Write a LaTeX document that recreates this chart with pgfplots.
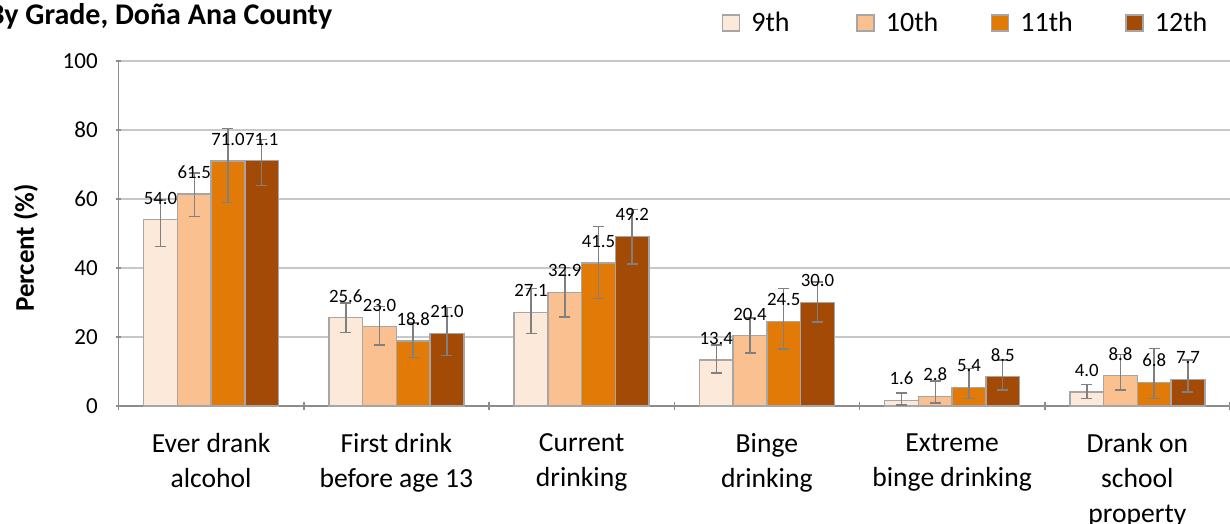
\documentclass[border=0pt]{standalone}
\usepackage{pgfplots}
\usepackage{pgfplotstable}
\pgfplotsset{compat=1.18}
\usepackage{fontspec}
\setmainfont{Carlito}
\definecolor{c9}{HTML}{FDE9D9}
\definecolor{c10}{HTML}{FAC090}
\definecolor{c11}{HTML}{E27A08}
\definecolor{c12}{HTML}{A24A06}
\definecolor{bord}{HTML}{A6A6A6}
\definecolor{errc}{HTML}{808080}
\definecolor{gridc}{HTML}{C8C8C8}
\definecolor{axc}{HTML}{8C8C8C}

\pgfplotstableread{
x y ep em
1 54.0 5.7 7.8
2 25.6 4.3 4.3
3 27.1 6.9 6.1
4 13.4 4.3 3.8
5 1.6 2.1 1.3
6 4.0 2.2 1.8
}\tnine
\pgfplotstableread{
x y ep em
1 61.5 6.0 6.6
2 23.0 5.8 5.3
3 32.9 7.2 7.1
4 20.4 5.1 5.1
5 2.8 4.5 2.0
6 8.8 6.1 4.2
}\tten
\pgfplotstableread{
x y ep em
1 71.0 9.5 12.0
2 18.8 5.2 4.7
3 41.5 10.6 10.3
4 24.5 9.6 8.0
5 5.4 5.5 3.2
6 6.8 9.9 4.6
}\televen
\pgfplotstableread{
x y ep em
1 71.1 6.2 7.2
2 21.0 7.5 6.4
3 49.2 7.7 8.0
4 30.0 5.9 5.7
5 8.5 4.8 3.9
6 7.7 5.6 3.7
}\ttwelve

\begin{document}
\begin{tikzpicture}
\begin{axis}[
  at={(0,0)}, anchor=south west,
  scale only axis,
  width=555.75pt, height=172.5pt,
  ybar=0pt, bar width=0.182,
  xmin=0.5, xmax=6.5,
  ymin=0, ymax=100,
  ytick={0,20,...,100},
  xtick={1,...,6},
  xticklabels={{Ever drank\\alcohol},{First drink\\before age 13},{Current\\drinking},{Binge\\drinking},{Extreme\\binge drinking},{Drank on\\school\\property}},
  minor xtick={0.5,1.5,...,6.5},
  tick align=outside,
  major tick length=2.75pt,
  minor tick length=3.5pt,
  major x tick style={draw=none},
  minor x tick style={draw=axc, line width=0.75pt},
  ytick style={draw=axc, line width=0.75pt},
  axis lines=left,
  axis line style={-, draw=axc, line width=0.75pt},
  ymajorgrids,
  grid style={draw=gridc, line width=0.7pt},
  /pgf/number format/assume math mode=true,
  yticklabel style={font=\fontsize{11.5}{13.5}\selectfont, xshift=-5.5pt},
  xticklabel style={align=center, anchor=north, font=\fontsize{13.8}{17.5}\selectfont, yshift=-9pt},
  ylabel={Percent (\%)},
  ylabel style={at={(axis description cs:-0.0832,0.458)}, anchor=center, font=\bfseries\fontsize{13.5}{16}\selectfont},
  nodes near coords={\pgfmathprintnumber[fixed,fixed zerofill,precision=1]{\pgfplotspointmeta}},
  every node near coord/.append style={font=\fontsize{9.4}{11}\selectfont, text=black, yshift=4pt},
  legend style={at={(0.5425,1.11)}, anchor=west, draw=none, fill=none, legend columns=4,
    font=\fontsize{14}{16}\selectfont, inner sep=0pt,
    /tikz/every odd column/.append style={column sep=3.5pt},
    /tikz/every even column/.append style={column sep=0pt}},
  legend image code/.code={\draw[#1, draw=bord, line width=0.75pt] (0pt,-4pt) rectangle (8.5pt,4pt);},
  error bars/y dir=both,
  error bars/y explicit,
  error bars/error bar style={draw=errc, line width=0.75pt},
  error bars/error mark options={draw=errc, rotate=90, mark size=2.75pt, line width=0.75pt},
]
\addplot[fill=c9, draw=bord, line width=0.75pt] table[x=x, y=y, y error plus=ep, y error minus=em] {\tnine};
\addlegendentry{\makebox[50.5pt][l]{9th}}
\addplot[fill=c10, draw=bord, line width=0.75pt] table[x=x, y=y, y error plus=ep, y error minus=em] {\tten};
\addlegendentry{\makebox[50.5pt][l]{10th}}
\addplot[fill=c11, draw=bord, line width=0.75pt] table[x=x, y=y, y error plus=ep, y error minus=em] {\televen};
\addlegendentry{\makebox[50.5pt][l]{11th}}
\addplot[fill=c12, draw=bord, line width=0.75pt] table[x=x, y=y, y error plus=ep, y error minus=em] {\ttwelve};
\addlegendentry{\makebox[25pt][l]{12th}}
\end{axis}
\node[anchor=base west, font=\bfseries\fontsize{15}{18}\selectfont, inner sep=0pt] at (-65.5pt,190.5pt) {By Grade, Doña Ana County};
\pgfresetboundingbox
\useasboundingbox (-59.25pt,-59pt) rectangle (555.75pt,203pt);
\end{tikzpicture}
\end{document}
